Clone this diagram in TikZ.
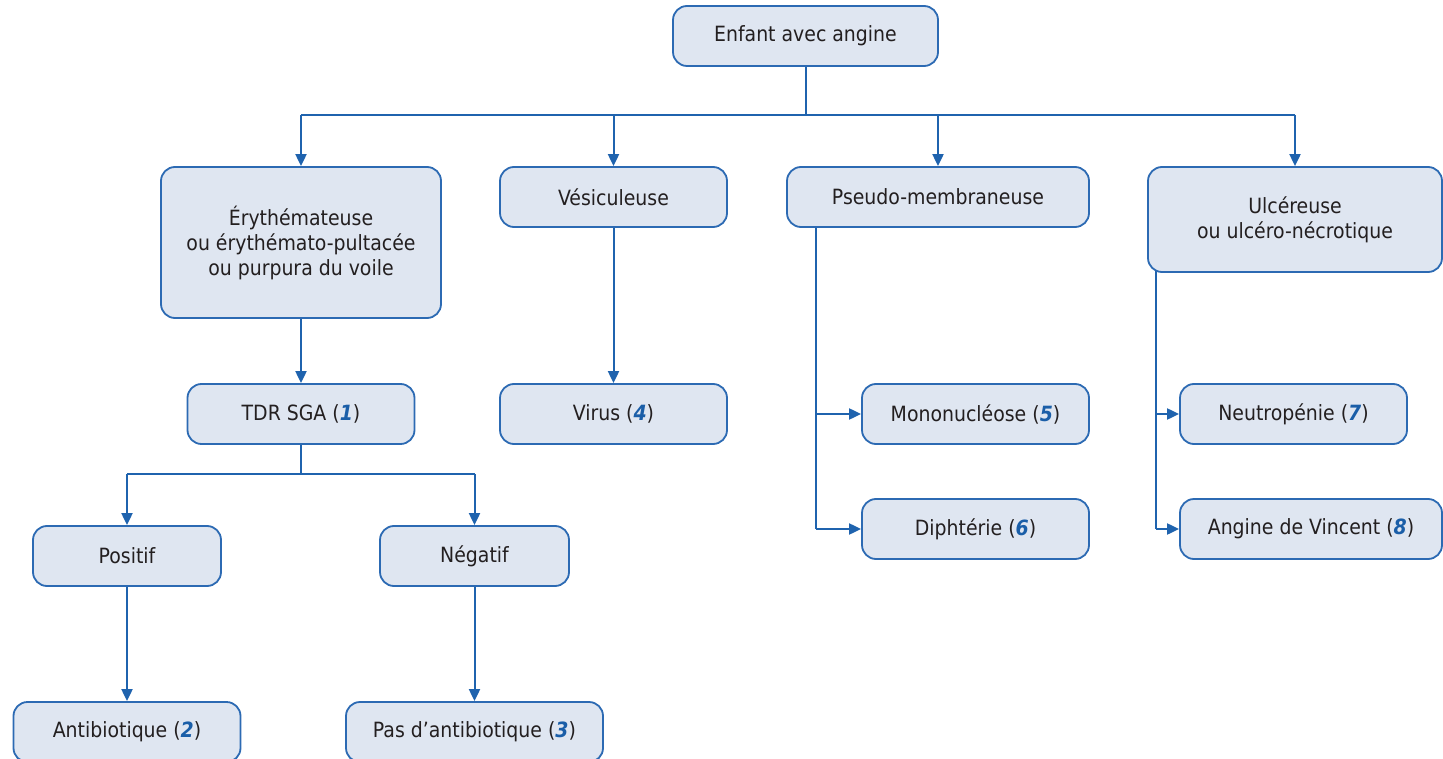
\documentclass[tikz,border=0pt]{standalone}
\usepackage{fontspec}
\setmainfont{DejaVu Sans Condensed}
\usetikzlibrary{arrows.meta}
\definecolor{boxfill}{HTML}{DFE6F1}
\definecolor{boxline}{HTML}{2C6AB3}
\definecolor{conn}{HTML}{1F63AE}
\definecolor{txt}{HTML}{231F20}
\definecolor{numc}{HTML}{1A5EA8}
\newcommand{\refnum}[1]{\textcolor{numc}{\textbf{\textit{#1}}}}
\pgfdeclarelayer{bg}\pgfsetlayers{bg,main}
\begin{document}
\begin{tikzpicture}[x=1pt,y=-1pt,
 box/.style={draw=boxline,fill=boxfill,line width=1.8pt,rounded corners=14pt,inner sep=0pt,align=center,text=txt,font=\fontsize{21}{25}\selectfont,minimum width=227,minimum height=60},
 arr/.style={draw=conn,line width=2pt,-{Triangle[length=12pt,width=11pt]}},
 ln/.style={draw=conn,line width=2pt}]
\useasboundingbox (0,0) rectangle (1443,759);
\node[box,minimum width=265] (root) at (805.5,36) {Enfant avec angine};
\node[box,minimum width=280,minimum height=151] (b1) at (301,242.5) {Érythémateuse\\ou érythémato-pultacée\\ou purpura du voile};
\node[box] (b2) at (613.5,197) {Vésiculeuse};
\node[box,minimum width=302] (b3) at (938,197) {Pseudo-membraneuse};
\node[box,minimum width=294,minimum height=105] (b4) at (1295,219.5) {Ulcéreuse\\ou ulcéro-nécrotique};
\node[box] (tdr) at (301,414) {TDR SGA (\refnum{1})};
\node[box] (virus) at (613.5,414) {Virus (\refnum{4})};
\node[box,minimum width=188] (pos) at (127,556) {Positif};
\node[box,minimum width=189] (neg) at (474.5,556) {Négatif};
\node[box] (anti) at (127,732) {Antibiotique (\refnum{2})};
\node[box,minimum width=257] (pas) at (474.5,732) {Pas d’antibiotique (\refnum{3})};
\node[box] (mono) at (975.5,414) {Mononucléose (\refnum{5})};
\node[box] (diph) at (975.5,529) {Diphtérie (\refnum{6})};
\node[box] (neut) at (1293.5,414) {Neutropénie (\refnum{7})};
\node[box,minimum width=262] (vinc) at (1311,529) {Angine de Vincent (\refnum{8})};
\coordinate (hj) at (0,115);
\coordinate (hj2) at (0,474);
\coordinate (p3) at ([xshift=30pt]b3.south west);
\coordinate (u4) at ([xshift=9pt]b4.south west);
\begin{pgfonlayer}{bg}
\draw[ln] (root.south) -- (root.south |- hj);
\draw[ln] (b1.north |- hj) -- (b4.north |- hj);
\draw[arr] (b1.north |- hj) -- (b1.north);
\draw[arr] (b2.north |- hj) -- (b2.north);
\draw[arr] (b3.north |- hj) -- (b3.north);
\draw[arr] (b4.north |- hj) -- (b4.north);
\draw[arr] (b1.south) -- (tdr.north);
\draw[ln] (tdr.south) -- (tdr.south |- hj2);
\draw[ln] (pos.north |- hj2) -- (neg.north |- hj2);
\draw[arr] (pos.north |- hj2) -- (pos.north);
\draw[arr] (neg.north |- hj2) -- (neg.north);
\draw[arr] (pos.south) -- (anti.north);
\draw[arr] (neg.south) -- (pas.north);
\draw[arr] (b2.south) -- (virus.north);
\draw[ln] (p3) -- (p3 |- diph.west);
\draw[arr] (p3 |- mono.west) -- (mono.west);
\draw[arr] (p3 |- diph.west) -- (diph.west);
\draw[ln] ([yshift=6pt]u4) -- (u4 |- vinc.west);
\draw[arr] (u4 |- neut.west) -- (neut.west);
\draw[arr] (u4 |- vinc.west) -- (vinc.west);
\end{pgfonlayer}
\end{tikzpicture}
\end{document}
